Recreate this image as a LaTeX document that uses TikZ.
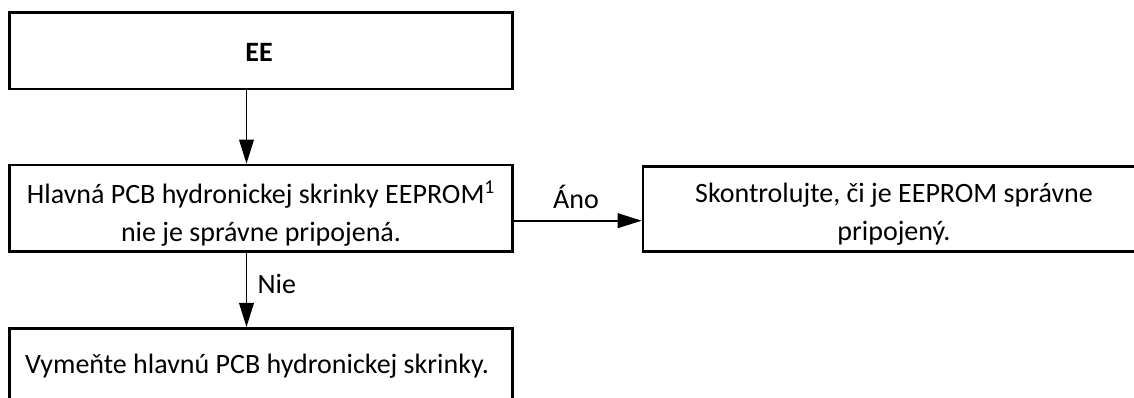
\documentclass[tikz,border=0pt]{standalone}
\usepackage{fontspec}
\setmainfont{Carlito}
\usetikzlibrary{arrows.meta}
\begin{document}
\begin{tikzpicture}[x=0.75pt,y=-0.75pt,
  box/.style={draw, line width=2pt, rectangle, inner sep=0pt},
  txt/.style={inner sep=0pt, align=center, font=\fontsize{21}{28.5}\selectfont},
  arr/.style={line width=1.25pt, -{Triangle[length=18pt,width=11pt]}},
  lbl/.style={font=\fontsize{21}{25}\selectfont, inner sep=0pt}]
\useasboundingbox (0,0) rectangle (1134,398);
\node[box, minimum width=503.4*0.75pt, minimum height=76.5*0.75pt] (b1) at (261,50.75) {};
\node[txt] (t1) at (259,52) {\textbf{EE}};
\node[box, minimum width=503.4*0.75pt, minimum height=86.7*0.75pt] (b2) at (261,208.3) {};
\node[txt] (t2) at (261,214) {Hlavná PCB hydronickej skrinky EEPROM\textsuperscript{1}\\nie je správne pripojená.};
\node[box, minimum width=502*0.75pt, minimum height=85*0.75pt] (b3) at (894,209.2) {};
\node[txt] (t3) at (894,214) {Skontrolujte, či je EEPROM správne\\pripojený.};
\node[box, minimum width=503.4*0.75pt, minimum height=73.4*0.75pt] (b4) at (261,365) {};
\node[txt] (t4) at (257,366) {Vymeňte hlavnú PCB hydronickej skrinky.};
\coordinate (a1) at (246.5,0);
\coordinate (a3) at (0,220.7);
\draw[arr] (b1.south -| a1) -- (b2.north -| a1);
\draw[arr] (b2.east |- a3) -- (b3.west |- a3) node[lbl, pos=0.486, anchor=base, yshift=9.5pt] (ano) {Áno};
\draw[arr] (b2.south -| a1) -- (b4.north -| a1) node[lbl, pos=0.552, anchor=base west, xshift=7.7pt] (nie) {Nie};
\end{tikzpicture}
\end{document}
